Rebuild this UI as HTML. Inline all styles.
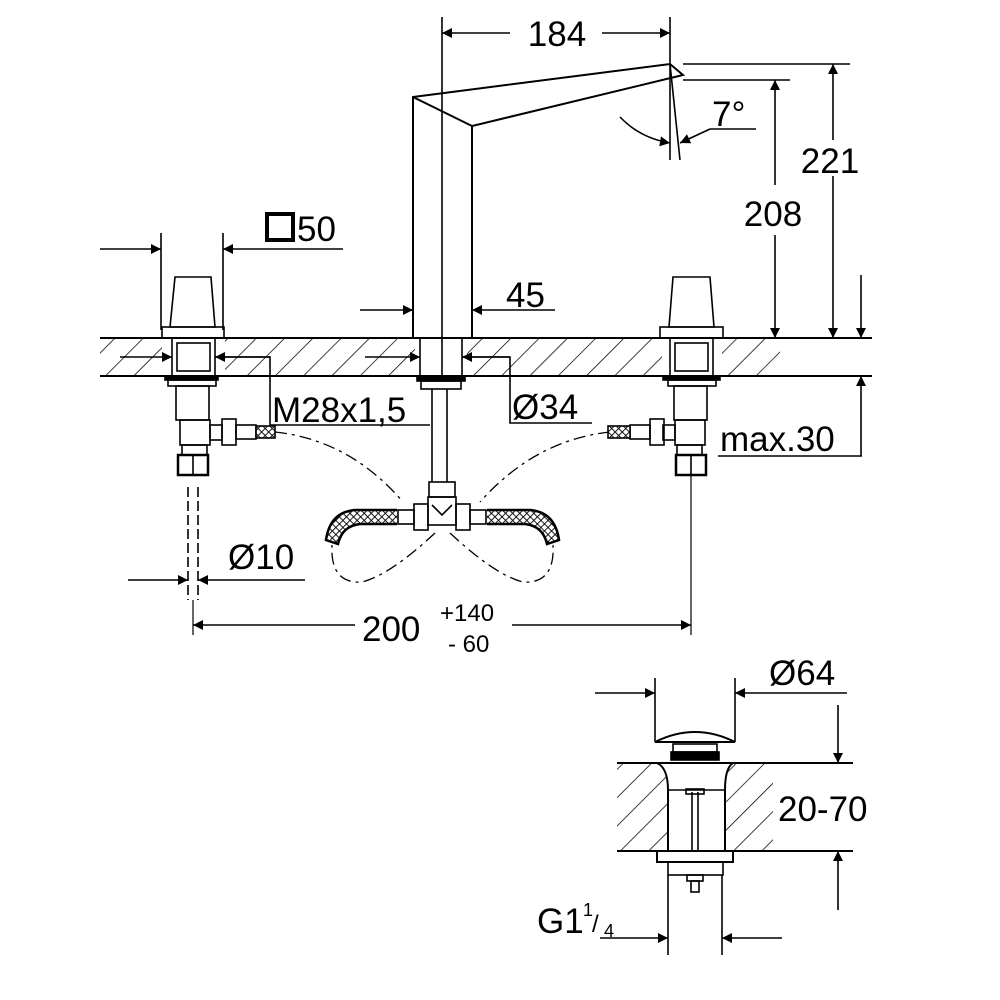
<!DOCTYPE html>
<html><head><meta charset="utf-8"><style>
html,body{margin:0;padding:0;background:#fff}
svg{display:block}
text{font-family:"Liberation Sans",Arial,sans-serif;fill:#000}
</style></head><body>
<svg width="1000" height="1000" viewBox="0 0 1000 1000" xmlns="http://www.w3.org/2000/svg">
<defs>
<pattern id="h" patternUnits="userSpaceOnUse" width="20" height="20" patternTransform="rotate(45)">
<line x1="0" y1="0" x2="0" y2="20" stroke="#000" stroke-width="1.5"/>
</pattern>
<pattern id="x" patternUnits="userSpaceOnUse" width="5" height="5" patternTransform="rotate(45)">
<rect width="5" height="5" fill="#fff"/>
<line x1="0" y1="0" x2="0" y2="5" stroke="#000" stroke-width="1.8"/>
<line x1="0" y1="0" x2="5" y2="0" stroke="#000" stroke-width="1.8"/>
</pattern>
<marker id="a" viewBox="0 0 10 10" refX="10" refY="5" markerWidth="14" markerHeight="10" markerUnits="userSpaceOnUse" orient="auto"><path d="M0,0 L10,5 L0,10 z" fill="#000"/></marker>
</defs>
<g stroke="#000" fill="none" stroke-width="1.6">
<rect x="100" y="338" width="680" height="38" fill="url(#h)" stroke="none"/>
<line x1="100" y1="338" x2="872" y2="338" stroke-width="2"/>
<line x1="100" y1="376" x2="872" y2="376" stroke-width="2"/>
<rect x="162" y="339" width="63" height="36" fill="#fff" stroke="none"/>
<rect x="415" y="339" width="52" height="36" fill="#fff" stroke="none"/>
<rect x="662" y="339" width="60" height="36" fill="#fff" stroke="none"/>

<path d="M413,338 L413,97 L670,64 L683,75 L472,126 L472,338" stroke-width="2"/>
<line x1="413" y1="97" x2="472" y2="126" stroke-width="2"/>
<line x1="442" y1="17" x2="442" y2="338"/>
<line x1="670" y1="17" x2="670" y2="160"/>
<line x1="670" y1="64" x2="680" y2="160"/>
<line x1="510" y1="33" x2="442" y2="33" marker-end="url(#a)"/>
<line x1="602" y1="33" x2="670" y2="33" marker-end="url(#a)"/>
<path d="M620,117 Q640,138 670,143" marker-end="url(#a)"/>
<line x1="756" y1="129" x2="710" y2="129"/>
<path d="M710,129 Q695,136 680,143" marker-end="url(#a)"/>
<line x1="683" y1="64" x2="850" y2="64"/>
<line x1="683" y1="80" x2="790" y2="80"/>
<line x1="833" y1="140" x2="833" y2="64" marker-end="url(#a)"/>
<line x1="833" y1="176" x2="833" y2="338" marker-end="url(#a)"/>
<line x1="775" y1="185" x2="775" y2="80" marker-end="url(#a)"/>
<line x1="775" y1="235" x2="775" y2="338" marker-end="url(#a)"/>
<line x1="861" y1="275" x2="861" y2="338" marker-end="url(#a)"/>
<line x1="861" y1="456" x2="861" y2="376" marker-end="url(#a)"/>
<line x1="718" y1="456" x2="862" y2="456"/>
<line x1="360" y1="310" x2="413" y2="310" marker-end="url(#a)"/>
<line x1="555" y1="310" x2="472" y2="310" marker-end="url(#a)"/>
<rect x="420" y="338" width="42" height="38"/>
<line x1="442" y1="338" x2="442" y2="376"/>
<rect x="417" y="376" width="48" height="5" fill="#000"/>
<rect x="421" y="381" width="40" height="8"/>
<line x1="432" y1="389" x2="432" y2="482"/><line x1="447" y1="389" x2="447" y2="482"/>
<line x1="365" y1="357" x2="420" y2="357" marker-end="url(#a)"/>
<line x1="510" y1="357" x2="462" y2="357" marker-end="url(#a)"/>
<polyline points="462,357 510,357 510,423 592,423"/>
<rect x="429" y="482" width="26" height="15"/>
<rect x="428" y="497" width="28" height="28"/>
<path d="M432,505 L442,515 L452,505"/>
<rect x="414" y="504" width="14" height="26"/><rect x="456" y="504" width="14" height="26"/>
<rect x="398" y="510" width="16" height="14"/><rect x="470" y="510" width="16" height="14"/>
<path d="M397,510 L355,510 Q330,512 326,540 L338,544 Q342,526 360,524 L397,524" fill="url(#x)" stroke-width="2.5"/>
<path d="M487,510 L530,510 Q555,512 559,540 L547,544 Q543,526 525,524 L487,524" fill="url(#x)" stroke-width="2.5"/>
<g stroke-dasharray="12,5,3,5" stroke-width="1.3">
<path d="M275,432 Q350,440 403,502"/>
<path d="M610,432 Q535,440 480,502"/>
<path d="M435,533 Q390,575 362,582 Q330,584 332,545"/>
<path d="M450,533 Q495,575 523,582 Q555,584 553,545"/>
</g>
<path d="M175,277 L211,277 L215,327 L170,327 z"/>
<rect x="162" y="327" width="62" height="11"/>
<rect x="172" y="338" width="43" height="38"/>
<rect x="177" y="343" width="33" height="28"/>
<line x1="120" y1="357" x2="172" y2="357" marker-end="url(#a)"/>
<line x1="270" y1="357" x2="215" y2="357" marker-end="url(#a)"/>
<polyline points="215,357 270,357 270,425 430,425"/>
<rect x="165" y="376" width="53" height="4" fill="#000"/>
<rect x="168" y="380" width="48" height="6"/>
<rect x="176" y="386" width="33" height="34"/>
<rect x="180" y="420" width="30" height="25"/>
<rect x="182" y="445" width="25" height="10"/>
<rect x="178" y="455" width="30" height="20" stroke-width="2.5"/>
<line x1="193" y1="455" x2="193" y2="475"/>
<rect x="210" y="425" width="12" height="15"/>
<rect x="222" y="419" width="14" height="26"/>
<rect x="236" y="425" width="20" height="14"/>
<rect x="256" y="426" width="19" height="12" fill="url(#x)"/>
<path d="M673,277 L710,277 L714,327 L669,327 z"/>
<rect x="660" y="327" width="63" height="11"/>
<rect x="670" y="338" width="43" height="38"/>
<rect x="675" y="343" width="33" height="28"/>
<rect x="663" y="376" width="57" height="4" fill="#000"/>
<rect x="668" y="380" width="48" height="6"/>
<rect x="674" y="386" width="33" height="34"/>
<rect x="675" y="420" width="30" height="25"/>
<rect x="677" y="445" width="25" height="10"/>
<rect x="676" y="455" width="30" height="20" stroke-width="2.5"/>
<line x1="691" y1="455" x2="691" y2="475"/>
<rect x="663" y="425" width="12" height="15"/>
<rect x="650" y="419" width="14" height="26"/>
<rect x="630" y="425" width="20" height="14"/>
<rect x="608" y="426" width="22" height="12" fill="url(#x)"/>
<line x1="691" y1="475" x2="691" y2="635" stroke-width="1.2"/>
<line x1="161" y1="233" x2="161" y2="330"/><line x1="223" y1="233" x2="223" y2="330"/>
<line x1="100" y1="249" x2="161" y2="249" marker-end="url(#a)"/>
<line x1="343" y1="249" x2="223" y2="249" marker-end="url(#a)"/>
<rect x="267" y="214" width="26" height="26" stroke-width="4"/>
<g stroke-dasharray="10,4"><line x1="188" y1="487" x2="188" y2="600"/><line x1="198" y1="487" x2="198" y2="600"/></g>
<line x1="193" y1="600" x2="193" y2="635" stroke-width="1.2"/>
<line x1="128" y1="580" x2="188" y2="580" marker-end="url(#a)"/>
<line x1="305" y1="580" x2="198" y2="580" marker-end="url(#a)"/>
<line x1="355" y1="625" x2="193" y2="625" marker-end="url(#a)"/>
<line x1="512" y1="625" x2="691" y2="625" marker-end="url(#a)"/>

<rect x="617" y="763" width="156" height="88" fill="url(#h)" stroke="none"/>
<rect x="667" y="764" width="59" height="86" fill="#fff" stroke="none"/>
<line x1="617" y1="763" x2="853" y2="763" stroke-width="2"/>
<line x1="617" y1="851" x2="853" y2="851" stroke-width="2"/>
<path d="M655,742 Q695,722 735,742 z" stroke-width="2"/>
<rect x="673" y="744" width="44" height="8"/>
<rect x="671" y="752" width="48" height="8" fill="#000"/>
<path d="M657,763 Q668,768 668,790 L668,851 M733,763 Q725,768 725,790 L725,851" stroke-width="2"/>
<line x1="668" y1="790" x2="725" y2="790"/>
<line x1="692" y1="792" x2="692" y2="851"/><line x1="698" y1="792" x2="698" y2="851"/>
<rect x="686" y="789" width="18" height="5"/>
<rect x="657" y="851" width="76" height="11" stroke-width="2"/>
<rect x="668" y="862" width="55" height="13"/>
<rect x="687" y="875" width="16" height="6"/>
<rect x="691" y="881" width="8" height="11"/>
<line x1="655" y1="678" x2="655" y2="742"/><line x1="735" y1="678" x2="735" y2="742"/>
<line x1="595" y1="693" x2="655" y2="693" marker-end="url(#a)"/>
<line x1="847" y1="693" x2="735" y2="693" marker-end="url(#a)"/>
<line x1="838" y1="705" x2="838" y2="763" marker-end="url(#a)"/>
<line x1="838" y1="910" x2="838" y2="851" marker-end="url(#a)"/>
<line x1="668" y1="875" x2="668" y2="955"/><line x1="722" y1="875" x2="722" y2="955"/>
<line x1="600" y1="938" x2="668" y2="938" marker-end="url(#a)"/>
<line x1="782" y1="938" x2="722" y2="938" marker-end="url(#a)"/>
</g>
<g font-size="35">
<text x="557" y="46" text-anchor="middle">184</text>
<text x="712" y="126">7°</text>
<text x="830" y="173" text-anchor="middle">221</text>
<text x="773" y="226" text-anchor="middle">208</text>
<text x="506" y="307">45</text>
<text x="297" y="241">50</text>
<text x="272" y="422">M28x1,5</text>
<text x="512" y="419">Ø34</text>
<text x="720" y="451">max.30</text>
<text x="228" y="569">Ø10</text>
<text x="362" y="641">200</text>
<text x="769" y="685">Ø64</text>
<text x="778" y="821">20-70</text>
<text x="537" y="933">G1</text>
</g>
<text x="440" y="621" font-size="24">+140</text>
<text x="448" y="652" font-size="24">-  60</text>
<text x="583" y="916" font-size="18">1</text>
<text x="592" y="932" font-size="24">/</text>
<text x="604" y="937" font-size="18">4</text>
</svg>
</body></html>
